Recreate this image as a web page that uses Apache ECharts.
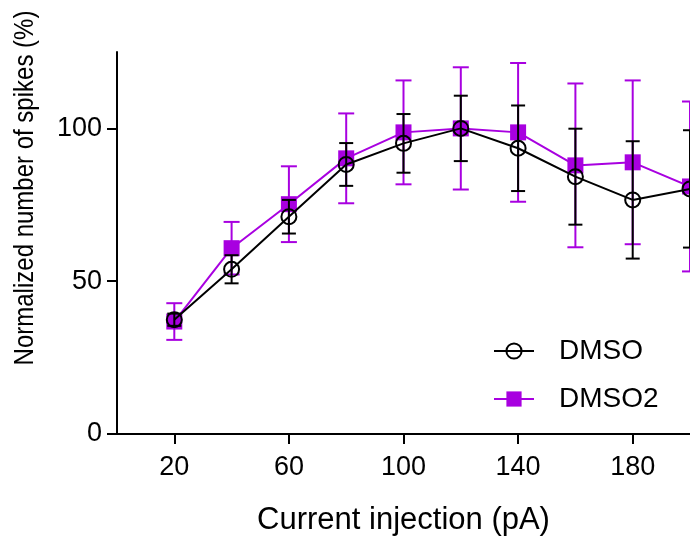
<!DOCTYPE html>
<html>
<head>
<meta charset="utf-8">
<script src="https://cdn.jsdelivr.net/npm/echarts@6/dist/echarts.min.js"></script>
<style>html,body{margin:0;padding:0;background:#fff}#c{width:690px;height:546px}</style>
</head>
<body>
<div id="c"></div>
<script>
const currents = [20, 40, 60, 80, 100, 120, 140, 160, 180, 200];
const dmsoMean = [37.4, 53.9, 71.1, 88.2, 95.1, 100, 93.5, 84.2, 76.6, 80.2];
const dmsoErr = [2, 4.6, 5.5, 7, 9.6, 10.7, 14, 15.7, 19.2, 19.2];
const dmso2Mean = [36.8, 60.8, 75.2, 90.2, 98.7, 100, 98.7, 87.9, 88.9, 81.0];
const dmso2Err = [6, 8.6, 12.4, 14.7, 17, 20, 22.7, 26.8, 26.8, 27.8];
const xTicks = [20, 60, 100, 140, 180];
const yTicks = [0, 50, 100];
const seriesNames = ['DMSO', 'DMSO2'];

const PURPLE = '#a800e0';
const FONT = 'Liberation Sans, Arial, sans-serif';

function errSeries(name, means, errs, color, capHalf, z) {
  return {
    type: 'custom',
    name: name + ' err',
    z: z,
    clip: false,
    data: currents.map((x, i) => [x, means[i], errs[i]]),
    renderItem: function (params, api) {
      const x = api.value(0), m = api.value(1), e = api.value(2);
      const top = api.coord([x, m + e]);
      const bot = api.coord([x, m - e]);
      const st = { stroke: color, lineWidth: 2 };
      return {
        type: 'group',
        children: [
          { type: 'line', shape: { x1: top[0], y1: top[1], x2: bot[0], y2: bot[1] }, style: st },
          { type: 'line', shape: { x1: top[0] - capHalf, y1: top[1], x2: top[0] + capHalf, y2: top[1] }, style: st },
          { type: 'line', shape: { x1: bot[0] - capHalf, y1: bot[1], x2: bot[0] + capHalf, y2: bot[1] }, style: st }
        ]
      };
    }
  };
}

const chart = echarts.init(document.getElementById('c'));
chart.setOption({
  animation: false,
  backgroundColor: '#fff',
  textStyle: { fontFamily: FONT },
  grid: { left: 117, right: -2, top: 52, bottom: 112 },
  xAxis: {
    type: 'value', min: 0, max: 200,
    name: 'Current injection (pA)', nameLocation: 'middle', nameGap: 71,
    nameTextStyle: { fontSize: 31, color: '#000', fontFamily: FONT },
    axisLine: { lineStyle: { color: '#000', width: 2 } },
    axisTick: { show: true, length: 10, lineStyle: { color: '#000', width: 2 }, customValues: xTicks },
    axisLabel: { fontSize: 27, color: '#000', margin: 20, fontFamily: FONT, customValues: xTicks },
    splitLine: { show: false }
  },
  yAxis: {
    type: 'value', min: 0, max: 125,
    axisLine: { show: true, lineStyle: { color: '#000', width: 2 } },
    axisTick: { show: true, length: 10, lineStyle: { color: '#000', width: 2 }, customValues: yTicks },
    axisLabel: { fontSize: 27, color: '#000', margin: 15, fontFamily: FONT, customValues: yTicks },
    splitLine: { show: false }
  },
  graphic: [{
    type: 'text',
    x: 25, y: 188,
    rotation: Math.PI / 2,
    scaleY: 1.15,
    style: {
      text: 'Normalized number of spikes (%)',
      font: '24px ' + FONT,
      fill: '#000',
      textAlign: 'center',
      textVerticalAlign: 'middle'
    }
  }],
  legend: {
    data: seriesNames,
    orient: 'vertical',
    left: 488, top: 332,
    itemWidth: 40, itemHeight: 19, itemGap: 20,
    textStyle: { fontSize: 28, color: '#000', fontFamily: FONT, padding: [0, 0, 0, 20] }
  },
  series: [
    errSeries(seriesNames[1], dmso2Mean, dmso2Err, PURPLE, 8, 1),
    {
      type: 'line', name: seriesNames[1], z: 2, clip: false,
      data: currents.map((x, i) => [x, dmso2Mean[i]]),
      symbol: 'rect', symbolSize: 16,
      itemStyle: { color: PURPLE },
      lineStyle: { color: PURPLE, width: 2 }
    },
    errSeries(seriesNames[0], dmsoMean, dmsoErr, '#000', 7, 3),
    {
      type: 'line', name: seriesNames[0], z: 4, clip: false,
      data: currents.map((x, i) => [x, dmsoMean[i]]),
      symbol: 'circle', symbolSize: 15,
      itemStyle: { color: 'rgba(0,0,0,0)', borderColor: '#000', borderWidth: 2 },
      lineStyle: { color: '#000', width: 2 }
    }
  ]
});
</script>
</body>
</html>
